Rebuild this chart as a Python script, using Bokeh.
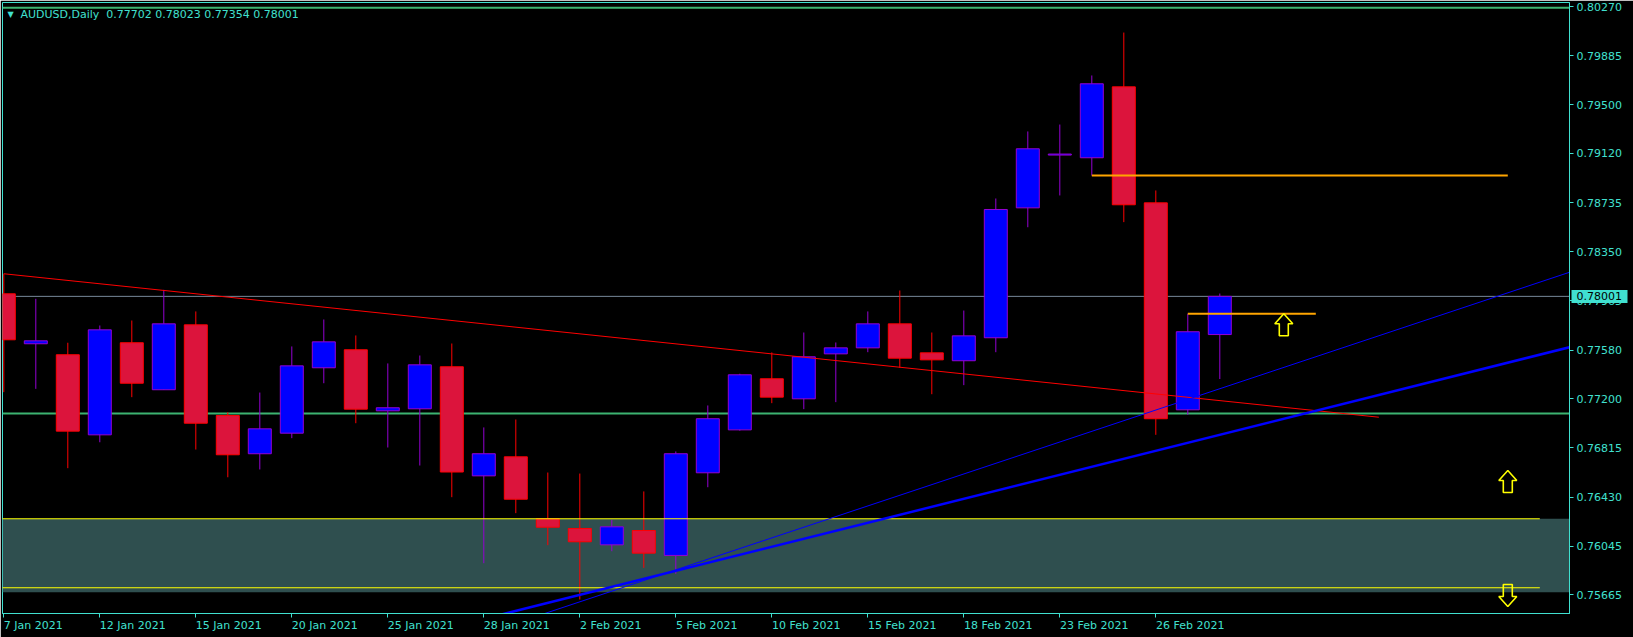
from bokeh.plotting import figure
from bokeh.models import (Range1d, FixedTicker, PrintfTickFormatter, ColumnDataSource,
                          Label, BoxAnnotation, Span, LinearAxis)
from bokeh.embed import file_html
from bokeh.resources import INLINE

# ---------------- data ----------------
dates = ["7 Jan 2021", "8 Jan 2021", "11 Jan 2021", "12 Jan 2021", "13 Jan 2021", "14 Jan 2021",
         "15 Jan 2021", "18 Jan 2021", "19 Jan 2021", "20 Jan 2021", "21 Jan 2021", "22 Jan 2021",
         "25 Jan 2021", "26 Jan 2021", "27 Jan 2021", "28 Jan 2021", "29 Jan 2021", "1 Feb 2021",
         "2 Feb 2021", "3 Feb 2021", "4 Feb 2021", "5 Feb 2021", "8 Feb 2021", "9 Feb 2021",
         "10 Feb 2021", "11 Feb 2021", "12 Feb 2021", "15 Feb 2021", "16 Feb 2021", "17 Feb 2021",
         "18 Feb 2021", "19 Feb 2021", "22 Feb 2021", "23 Feb 2021", "24 Feb 2021", "25 Feb 2021",
         "26 Feb 2021", "1 Mar 2021", "2 Mar 2021"]
opens = [0.78021, 0.77630, 0.77544, 0.76917, 0.77638, 0.77270, 0.77778, 0.77068, 0.76769, 0.76930,
         0.77442, 0.77583, 0.77105, 0.77121, 0.77450, 0.76596, 0.76745, 0.76260, 0.76184, 0.76056,
         0.76168, 0.75973, 0.76620, 0.76956, 0.77356, 0.77199, 0.77551, 0.77598, 0.77786, 0.77559,
         0.77497, 0.77677, 0.78694, 0.79107, 0.79086, 0.79641, 0.78733, 0.77113, 0.77702]
highs = [0.78178, 0.77982, 0.77638, 0.77773, 0.77812, 0.78052, 0.77883, 0.77094, 0.77248, 0.77609,
         0.77820, 0.77695, 0.77476, 0.77538, 0.77632, 0.76975, 0.77037, 0.76622, 0.76614, 0.76252,
         0.76474, 0.76787, 0.77147, 0.77395, 0.77562, 0.77718, 0.77640, 0.77883, 0.78047, 0.77718,
         0.77890, 0.78767, 0.79292, 0.79346, 0.79730, 0.80066, 0.78830, 0.77865, 0.78023]
lows = [0.77251, 0.77277, 0.76656, 0.76859, 0.77212, 0.77268, 0.76802, 0.76585, 0.76646, 0.76891,
        0.77321, 0.77008, 0.76818, 0.76677, 0.76429, 0.75912, 0.76304, 0.76053, 0.75628, 0.76006,
        0.75876, 0.75829, 0.76507, 0.76950, 0.77165, 0.77118, 0.77173, 0.77564, 0.77442, 0.77235,
        0.77306, 0.77564, 0.78542, 0.78791, 0.78947, 0.78582, 0.76917, 0.77074, 0.77354]
closes = [0.77661, 0.77653, 0.76946, 0.77739, 0.77321, 0.77786, 0.77008, 0.76761, 0.76964, 0.77457,
          0.77645, 0.77118, 0.77129, 0.77465, 0.76626, 0.76769, 0.76413, 0.76194, 0.76080, 0.76197,
          0.75991, 0.76769, 0.77043, 0.77387, 0.77212, 0.77528, 0.77598, 0.77786, 0.77517, 0.77504,
          0.77692, 0.78681, 0.79156, 0.79115, 0.79665, 0.78718, 0.77043, 0.77724, 0.78001]

price_ticks = [0.75665, 0.76045, 0.76430, 0.76815, 0.77200, 0.77580, 0.77965,
               0.78350, 0.78735, 0.79120, 0.79500, 0.79885, 0.80270]
label_every = 3

symbol = "AUDUSD"
timeframe = "Daily"

# chart objects (price levels / anchors)
zone_top, zone_bottom = 0.76260, 0.75685
yellow_levels = [0.76260, 0.75720]
yellow_end = 48
green_levels = [0.80260, 0.77084]
orange_x0 = [34, 37]
orange_x1 = [47, 41]
orange_y = [0.78947, 0.77865]
red_tl_x = [0, 42.97]
red_tl_y = [0.78178, 0.77055]
blue_thin_x = [16.0, 50.0]
blue_thin_y = [0.75443, 0.78279]
blue_thick_x = [15.0, 50.0]
blue_thick_y = [0.75476, 0.77670]
up_arrow_x = [40, 47]
up_arrow_y = [0.77865, 0.76638]
down_arrow_x = [47]
down_arrow_y = [0.75746]

# ---------------- styling ----------------
FG = "#40E0D0"
FONT = "DejaVu Sans"
FS = 11
BULL_FILL, BULL_LINE = "#0000FF", "#9400D3"
BEAR_FILL, BEAR_LINE = "#DC143C", "#FF0000"

W, H = 1633, 637
BL, BR, BT, BB = 2, 64, 2, 24
FW, FH = W - BL - BR, H - BT - BB

x_start, x_end = -0.0406, 48.928
y_start, y_end = 0.755185, 0.803013
ppx = FW / (x_end - x_start)      # pixels per bar
ppy = FH / (y_end - y_start)      # pixels per price unit

# DejaVu Sans advance widths (em) used to left-align the date labels on their ticks
ADV = {" ": 0.318, "J": 0.295, "a": 0.613, "n": 0.634, "F": 0.575, "e": 0.615, "b": 0.635,
       "M": 0.863, "r": 0.411, ".": 0.318}
def text_w(s):
    return sum(ADV.get(ch, 0.636) for ch in s) * FS

p = figure(width=W, height=H, x_range=Range1d(x_start, x_end), y_range=Range1d(y_start, y_end),
           output_backend="svg", toolbar_location=None, y_axis_location="right",
           min_border_left=BL, min_border_right=BR, min_border_top=BT, min_border_bottom=BB)
p.background_fill_color = "black"
p.border_fill_color = "black"
p.outline_line_color = FG
p.outline_line_width = 1
p.xgrid.visible = False
p.ygrid.visible = False

# right price axis
ya = p.yaxis[0]
ya.ticker = FixedTicker(ticks=price_ticks)
ya.formatter = PrintfTickFormatter(format="%.5f")
ya.axis_line_color = FG
ya.major_tick_line_color = FG
ya.major_tick_out = 4
ya.major_tick_in = 0
ya.minor_tick_line_color = None
ya.major_label_standoff = 3
ya.major_label_text_color = FG
ya.major_label_text_font = FONT
ya.major_label_text_font_size = f"{FS}px"

# bid price box: second right axis, drawn back over the first one
main_axis_w = 55          # rendered width of the main price axis panel
bid_axis = LinearAxis(ticker=FixedTicker(ticks=[closes[-1]]),
                      formatter=PrintfTickFormatter(format="%.5f"))
bid_axis.axis_line_color = None
bid_axis.major_tick_line_color = FG
bid_axis.major_tick_line_width = 13
bid_axis.major_tick_in = main_axis_w - 2
bid_axis.major_tick_out = 3
bid_axis.minor_tick_line_color = None
bid_axis.major_label_standoff = -(main_axis_w + 3 - 7)
bid_axis.major_label_text_color = "black"
bid_axis.major_label_text_font = FONT
bid_axis.major_label_text_font_size = f"{FS}px"
p.add_layout(bid_axis, "right")

# bottom time axis: tick marks on the first axis, left-aligned date labels on a second one
n = len(closes)
idx = list(range(n))
tick_idx = idx[::label_every]
tick_text = dates[::label_every]
xa = p.xaxis[0]
xa.ticker = FixedTicker(ticks=tick_idx)
xa.major_label_overrides = {i: "" for i in tick_idx}
xa.axis_line_color = FG
xa.major_tick_line_color = FG
xa.major_tick_out = 4
xa.major_tick_in = 0
xa.minor_tick_line_color = None
xa.major_label_standoff = 0
xa.major_label_text_font_size = "0px"

label_pos = [i + text_w(t) / 2 / ppx for i, t in zip(tick_idx, tick_text)]
date_axis = LinearAxis(ticker=FixedTicker(ticks=label_pos))
date_axis.major_label_overrides = {pos: t for pos, t in zip(label_pos, tick_text)}
date_axis.axis_line_color = None
date_axis.major_tick_line_color = None
date_axis.major_tick_out = 0
date_axis.major_tick_in = 0
date_axis.minor_tick_line_color = None
date_axis.major_label_standoff = 1
date_axis.major_label_text_color = FG
date_axis.major_label_text_font = FONT
date_axis.major_label_text_font_size = f"{FS}px"
p.add_layout(date_axis, "below")

# support zone (background)
p.add_layout(BoxAnnotation(top=zone_top, bottom=zone_bottom, fill_color="#2F4F4F", fill_alpha=1,
                           line_alpha=0, level="underlay"))
for g in green_levels:
    p.add_layout(Span(location=g, dimension="width", line_color="#3CB371", line_width=2, level="underlay"))
p.add_layout(Span(location=closes[-1], dimension="width", line_color="#778899", line_width=1, level="underlay"))

# candles
bull = [c >= o for o, c in zip(opens, closes)]
src = ColumnDataSource(dict(
    x=idx, high=highs, low=lows,
    top=[max(o, c) for o, c in zip(opens, closes)],
    bottom=[min(o, c) for o, c in zip(opens, closes)],
    fill=[BULL_FILL if b else BEAR_FILL for b in bull],
    edge=[BULL_LINE if b else BEAR_LINE for b in bull],
))
p.segment(x0="x", y0="low", x1="x", y1="high", line_color="edge", line_width=1, source=src)
p.vbar(x="x", width=23 / ppx, top="top", bottom="bottom", fill_color="fill", line_color="edge",
       line_width=1, source=src)

# yellow zone lines
for yv in yellow_levels:
    p.line(x=[x_start - 1, yellow_end], y=[yv, yv], line_color="#FFFF00", line_width=1)

# trend lines
p.line(x=red_tl_x, y=red_tl_y, line_color="#FF0000", line_width=1)
p.line(x=blue_thin_x, y=blue_thin_y, line_color="#0000FF", line_width=1)
p.line(x=blue_thick_x, y=blue_thick_y, line_color="#0000FF", line_width=2.5)

# orange levels
p.segment(x0=orange_x0, y0=orange_y, x1=orange_x1, y1=orange_y, line_color="#FFA500", line_width=2)

# hollow arrows (shape in pixels)
up_shape = [(0, 0), (9, 10), (4.5, 10), (4.5, 22), (-4.5, 22), (-4.5, 10), (-9, 10)]
down_shape = [(-4.5, 0), (4.5, 0), (4.5, 12), (9, 12), (0, 22), (-9, 12), (-4.5, 12)]
axs, ays = [], []
for ax, ay in zip(up_arrow_x, up_arrow_y):
    axs.append([ax + dx / ppx for dx, dy in up_shape])
    ays.append([ay - dy / ppy for dx, dy in up_shape])
for ax, ay in zip(down_arrow_x, down_arrow_y):
    axs.append([ax + dx / ppx for dx, dy in down_shape])
    ays.append([ay - dy / ppy for dx, dy in down_shape])
p.patches(xs=axs, ys=ays, fill_alpha=0, line_color="#FFFF00", line_width=1.6)

# header
p.add_layout(Label(x=5, y=FH - 7, x_units="screen", y_units="screen", text="\u25BC",
                   text_color=FG, text_font=FONT, text_font_size="8px", text_baseline="top"))
hdr = f"{symbol},{timeframe}\u00a0\u00a0{opens[-1]:.5f} {highs[-1]:.5f} {lows[-1]:.5f} {closes[-1]:.5f}"
p.add_layout(Label(x=18, y=FH - 5, x_units="screen", y_units="screen", text=hdr,
                   text_color=FG, text_font=FONT, text_font_size=f"{FS}px", text_baseline="top"))

open("out.html", "w").write(file_html(p, INLINE))
